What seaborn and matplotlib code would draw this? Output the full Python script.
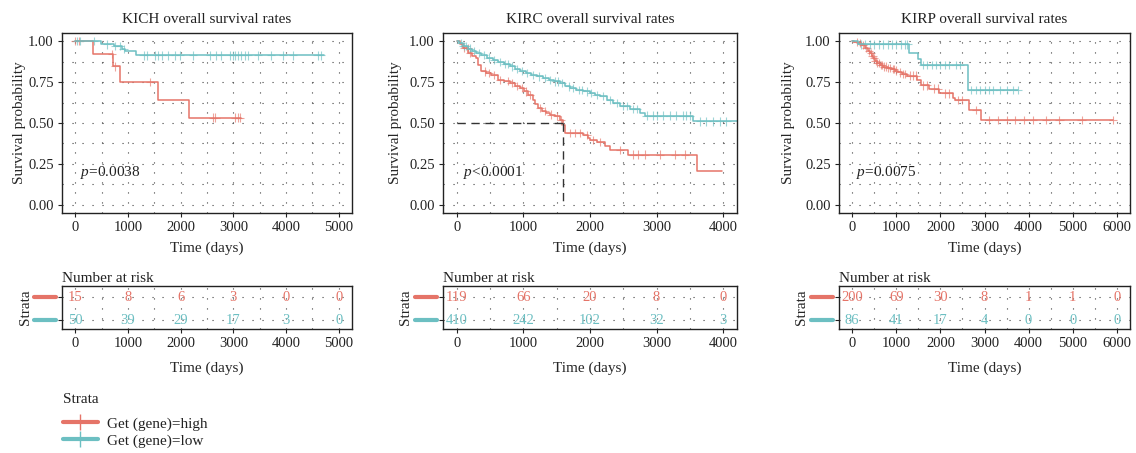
import numpy as np
import pandas as pd
import matplotlib
matplotlib.use("Agg")
import matplotlib.pyplot as plt
import matplotlib.transforms as mtransforms
from matplotlib.lines import Line2D
import seaborn as sns


# groups and colours
groups = ["high", "low"]
labels = ["Get (gene)=high", "Get (gene)=low"]
pal = {"high": "#E57468", "low": "#6CBFC2"}

# ---- KICH ----
kich_high_t = [0, 333, 711, 855, 1579, 2164, 3151]
kich_high_s = [1.0, 0.923, 0.846, 0.75, 0.64, 0.533, 0.533]
kich_high_cens = [6, 69, 698, 761, 1421, 2616, 2660, 3025, 3088, 3120]
kich_low_t = [0, 496, 730, 887, 950, 1150, 4723]
kich_low_s = [1.0, 0.98, 0.97, 0.951, 0.937, 0.913, 0.913]
kich_low_cens = [30, 90, 352, 600, 761, 855, 918, 1296, 1358, 1516, 1579, 1642,
                 1767, 1893, 1987, 2239, 2553, 2679, 2774, 2931, 2994, 3025, 3088,
                 3151, 3214, 3277, 3465, 3717, 3937, 4126, 4598, 4660]
kich_breaks = [0, 1000, 2000, 3000, 4000, 5000]
kich_risk_high = [15, 8, 6, 3, 0, 0]
kich_risk_low = [50, 39, 29, 17, 3, 0]
kich_p = "=0.0038"

# ---- KIRC ----
kirc_high_t = [0, 40, 90, 165, 230, 290, 316, 366, 440, 516, 617, 700, 792, 870,
               943, 1010, 1068, 1143, 1180, 1218, 1280, 1343, 1400, 1469, 1544,
               1594, 1630, 1900, 1975, 2000, 2100, 2226, 2301, 2576, 3604, 3980]
kirc_high_s = [1.0, 0.98, 0.957, 0.927, 0.91, 0.896, 0.855, 0.815, 0.805, 0.795,
               0.764, 0.755, 0.744, 0.728, 0.713, 0.693, 0.673, 0.642, 0.615, 0.591,
               0.575, 0.561, 0.551, 0.541, 0.516, 0.49, 0.44, 0.427, 0.408, 0.398,
               0.382, 0.358, 0.337, 0.307, 0.205, 0.205]
kirc_high_cens = [110, 160, 200, 420, 480, 560, 650, 760, 820, 900, 980, 1040, 1100,
                  1250, 1320, 1420, 1500, 1560, 1700, 1780, 1850, 1950, 2050, 2150,
                  2451, 2650, 2727, 2827, 3053, 3278, 3429]
kirc_low_t = [0, 30, 90, 160, 220, 290, 360, 450, 541, 620, 700, 792, 870, 950,
              1042, 1120, 1200, 1293, 1380, 1460, 1544, 1619, 1700, 1794, 1900,
              1995, 2080, 2150, 2251, 2351, 2451, 2602, 2752, 2827, 3553, 4300]
kirc_low_s = [1.0, 0.99, 0.971, 0.955, 0.94, 0.927, 0.915, 0.9, 0.886, 0.873, 0.86,
              0.846, 0.832, 0.818, 0.805, 0.795, 0.785, 0.774, 0.764, 0.754, 0.744,
              0.724, 0.712, 0.703, 0.693, 0.683, 0.672, 0.663, 0.642, 0.622, 0.602,
              0.585, 0.561, 0.545, 0.51, 0.51]
kirc_low_cens = [60, 100, 140, 200, 250, 330, 400, 480, 560, 640, 720, 760, 830, 900,
                 980, 1060, 1150, 1230, 1320, 1400, 1480, 1520, 1580, 1680, 1740,
                 1830, 1880, 1950, 2020, 2100, 2200, 2300, 2400, 2500, 2550, 2650,
                 2700, 2850, 2950, 3000, 3100, 3200, 3300, 3400, 3450, 3500, 3650,
                 3750, 3850, 3950, 4050]
kirc_breaks = [0, 1000, 2000, 3000, 4000]
kirc_risk_high = [119, 66, 20, 8, 0]
kirc_risk_low = [410, 242, 102, 32, 3]
kirc_p = "<0.0001"
kirc_median = 1594

# ---- KIRP ----
kirp_high_t = [0, 50, 136, 200, 288, 350, 402, 440, 477, 520, 553, 620, 705, 800,
               893, 970, 1045, 1121, 1250, 1480, 1560, 1750, 1977, 2280, 2330, 2659,
               2925, 5917]
kirp_high_s = [1.0, 0.995, 0.988, 0.975, 0.957, 0.94, 0.927, 0.91, 0.896, 0.88,
               0.866, 0.855, 0.845, 0.838, 0.829, 0.82, 0.809, 0.801, 0.79, 0.76,
               0.73, 0.71, 0.681, 0.654, 0.64, 0.579, 0.518, 0.518]
kirp_high_cens = [100, 180, 250, 320, 380, 430, 460, 500, 530, 570, 600, 650, 680,
                  720, 760, 820, 860, 920, 950, 1000, 1080, 1150, 1200, 1300, 1380,
                  1450, 1600, 1700, 1850, 1950, 2100, 2200, 2400, 2500, 2800, 3100,
                  3300, 3500, 3700, 3900, 4100, 4400, 4700, 5200, 5917]
kirp_low_t = [0, 136, 1295, 1484, 1561, 2621, 3757]
kirp_low_s = [1.0, 0.98, 0.925, 0.894, 0.854, 0.70, 0.70]
kirp_low_cens = [200, 300, 400, 500, 600, 700, 800, 900, 1000, 1100, 1200, 1250,
                 1600, 1700, 1800, 1900, 2000, 2100, 2200, 2350, 2450, 2700, 2800,
                 2900, 3000, 3100, 3200, 3350, 3500, 3650, 3757]
kirp_breaks = [0, 1000, 2000, 3000, 4000, 5000, 6000]
kirp_risk_high = [200, 69, 30, 8, 1, 1, 0]
kirp_risk_low = [86, 41, 17, 4, 0, 0, 0]
kirp_p = "=0.0075"

sns.set_theme(style="white")
plt.rcParams["font.family"] = ["Liberation Serif", "DejaVu Serif"]
plt.rcParams["mathtext.fontset"] = "custom"
plt.rcParams["mathtext.it"] = "Liberation Serif:italic"
plt.rcParams["mathtext.rm"] = "Liberation Serif"
plt.rcParams["text.color"] = "#222222"
plt.rcParams["xtick.color"] = "#222222"
plt.rcParams["ytick.color"] = "#222222"


def km_frames(t, s, cens, group):
    line = pd.DataFrame({"time": t, "surv": s, "group": group})
    idx = np.searchsorted(t, cens, side="right") - 1
    marks = pd.DataFrame({"time": cens, "surv": np.array(s)[idx], "group": group})
    return line, marks


panels = [
    dict(name="KICH", high=(kich_high_t, kich_high_s, kich_high_cens),
         low=(kich_low_t, kich_low_s, kich_low_cens), breaks=kich_breaks,
         risk_high=kich_risk_high, risk_low=kich_risk_low, p=kich_p,
         xlim=(-250, 5250), left=62, right=352, ylab=-0.125, median=None),
    dict(name="KIRC", high=(kirc_high_t, kirc_high_s, kirc_high_cens),
         low=(kirc_low_t, kirc_low_s, kirc_low_cens), breaks=kirc_breaks,
         risk_high=kirc_risk_high, risk_low=kirc_risk_low, p=kirc_p,
         xlim=(-210, 4210), left=443, right=737, ylab=-0.138, median=kirc_median),
    dict(name="KIRP", high=(kirp_high_t, kirp_high_s, kirp_high_cens),
         low=(kirp_low_t, kirp_low_s, kirp_low_cens), breaks=kirp_breaks,
         risk_high=kirp_risk_high, risk_low=kirp_risk_low, p=kirp_p,
         xlim=(-300, 6300), left=839, right=1130, ylab=-0.15, median=None),
]

W, H = 1136, 453
fig = plt.figure(figsize=(W / 100, H / 100), dpi=100)
dots = (0, (1, 8))


def style_axes(ax):
    for sp in ax.spines.values():
        sp.set_visible(True)
        sp.set_color("#222222")
        sp.set_linewidth(1.0)
    ax.tick_params(which="major", direction="out", length=3, width=0.8,
                   bottom=True, left=True, labelsize=10.5, pad=3)
    ax.tick_params(which="minor", length=0)
    ax.grid(which="both", linestyle=dots, color="0.25", linewidth=0.8)
    ax.set_axisbelow(True)


for pn in panels:
    l, r = pn["left"], pn["right"]
    ax = fig.add_axes([l / W, 1 - 213 / H, (r - l) / W, 180 / H])
    axr = fig.add_axes([l / W, 1 - 329 / H, (r - l) / W, 43 / H])

    hl, hm = km_frames(*pn["high"], "high")
    ll, lm = km_frames(*pn["low"], "low")
    lines = pd.concat([hl, ll], ignore_index=True)
    marks = pd.concat([hm, lm], ignore_index=True)

    sns.lineplot(data=lines, x="time", y="surv", hue="group", palette=pal,
                 estimator=None, sort=False, drawstyle="steps-post",
                 linewidth=1.1, legend=False, ax=ax)
    sns.scatterplot(data=marks, x="time", y="surv", hue="group", palette=pal,
                    marker="+", s=36, linewidth=0.8, alpha=0.65, legend=False, ax=ax)

    if pn["median"] is not None:
        m = pn["median"]
        ax.plot([0, m], [0.5, 0.5], color="#333333", linestyle=(0, (6, 4)), lw=1.0)
        ax.plot([m, m], [0.5, 0], color="#333333", linestyle=(0, (6, 4)), lw=1.0)

    ax.set_xlim(pn["xlim"])
    ax.set_ylim(-0.05, 1.05)
    ax.set_xticks(pn["breaks"])
    ax.set_xticks(np.arange(500, pn["breaks"][-1], 1000), minor=True)
    ax.set_yticks([0, 0.25, 0.5, 0.75, 1.0])
    ax.set_yticks([0.125, 0.375, 0.625, 0.875], minor=True)
    ax.set_yticklabels(["0.00", "0.25", "0.50", "0.75", "1.00"])
    style_axes(ax)
    ax.set_title(f"{pn['name']} overall survival rates", fontsize=11, pad=7)
    ax.set_xlabel("Time (days)", fontsize=11, labelpad=5)
    ax.set_ylabel("Survival probability", fontsize=11)
    ax.yaxis.set_label_coords(pn["ylab"], 0.5)
    ax.text(90, 0.2, r"$p$" + pn["p"], fontsize=11, ha="left", va="center")

    # number at risk table
    axr.set_xlim(pn["xlim"])
    axr.set_ylim(-0.39, 1.48)
    axr.set_xticks(pn["breaks"])
    axr.set_xticks(np.arange(500, pn["breaks"][-1], 1000), minor=True)
    axr.set_yticks([0, 1])
    axr.set_yticklabels(["", ""])
    style_axes(axr)
    for t, n in zip(pn["breaks"], pn["risk_high"]):
        axr.text(t, 1, str(n), color=pal["high"], ha="center", va="center", fontsize=10.5)
    for t, n in zip(pn["breaks"], pn["risk_low"]):
        axr.text(t, 0, str(n), color=pal["low"], ha="center", va="center", fontsize=10.5)
    trans = mtransforms.blended_transform_factory(axr.transAxes, axr.transData)
    for row, g in [(1, "high"), (0, "low")]:
        axr.add_line(Line2D([-0.095, -0.02], [row, row], color=pal[g], lw=3,
                            transform=trans, clip_on=False))
    axr.set_title("Number at risk", loc="left", fontsize=11, pad=3)
    axr.set_xlabel("Time (days)", fontsize=11, labelpad=8)
    axr.set_ylabel("Strata", fontsize=11)
    axr.yaxis.set_label_coords(-0.105, 0.5)

handles = [Line2D([], [], color=pal[g], lw=3, marker="+", markersize=11,
                  markeredgewidth=1) for g in groups]
fig.legend(handles, labels, title="Strata", loc="upper left",
           bbox_to_anchor=(52 / W, 1 - 382 / H), frameon=False, fontsize=11,
           title_fontsize=11, alignment="left", handlelength=2.3,
           labelspacing=0.2, handletextpad=0.6, borderpad=0.2)
leg = fig.legends[0]
leg._legend_box.sep = 8

fig.savefig("out.png", dpi=100)
